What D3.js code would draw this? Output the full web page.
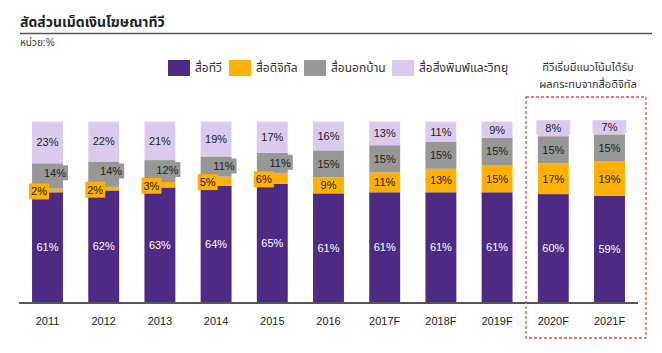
<!DOCTYPE html>
<html><head><meta charset="utf-8">
<script src="https://cdn.jsdelivr.net/npm/d3@7"></script>
<style>
body{margin:0;background:#fff;}
svg{display:block;font-family:"Liberation Sans",Arial,"Noto Sans Thai",Tahoma,sans-serif;}
</style></head>
<body>
<svg id="c" width="662" height="353"></svg>
<script>
const categories = ["2011","2012","2013","2014","2015","2016","2017F","2018F","2019F","2020F","2021F"];
const tv      = [61,62,63,64,65,61,61,61,61,60,59];
const digital = [2,2,3,5,6,9,11,13,15,17,19];
const outdoor = [14,14,12,11,11,15,15,15,15,15,15];
const print   = [23,22,21,19,17,16,13,11,9,8,7];
const seriesNames = ["สื่อทีวี","สื่อดิจิทัล","สื่อนอกบ้าน","สื่อสิ่งพิมพ์และวิทยุ"];
const seriesKeys = ["tv","digital","outdoor","print"];
const colors = ["#4d2a83","#ffb000","#979797","#dacbee"];
const title = "สัดส่วนเม็ดเงินโฆษณาทีวี";
const unit = "หน่วย:%";
const note = ["ทีวีเริ่มมีแนวโน้มได้รับ","ผลกระทบจากสื่อดิจิทัล"];
const highlighted = ["2020F","2021F"];

const data = categories.map((c,i)=>({cat:c, tv:tv[i], digital:digital[i], outdoor:outdoor[i], print:print[i]}));
const svg = d3.select("#c");

const x = d3.scaleBand().domain(categories).range([19.4,637.6]).paddingInner(0.45).paddingOuter(0.225);
const y = d3.scaleLinear().domain([0,1]).range([302.7,121.7]);
const color = d3.scaleOrdinal().domain(seriesKeys).range(colors);

const stack = d3.stack().keys(seriesKeys).offset(d3.stackOffsetExpand);
const layers = stack(data);

// title
svg.append("text").attr("x",20).attr("y",27).attr("font-size",14).attr("font-weight","bold").attr("fill","#222").text(title);
svg.append("line").attr("x1",20).attr("x2",652).attr("y1",33.5).attr("y2",33.5).attr("stroke","#555").attr("stroke-width",1.5);
svg.append("text").attr("x",20).attr("y",46).attr("font-size",10).attr("fill","#333").text(unit);

// legend
const legX = [168,229,304,392];
seriesKeys.forEach((k,i)=>{
  svg.append("rect").attr("x",legX[i]).attr("y",60).attr("width",22).attr("height",16).attr("fill",colors[i]);
  svg.append("text").attr("x",legX[i]+27).attr("y",72).attr("font-size",12).attr("fill","#333").text(seriesNames[i]);
});

// note
note.forEach((t,i)=>{
  svg.append("text").attr("x",588).attr("y",71+i*17).attr("text-anchor","middle").attr("font-size",11).attr("fill","#333").text(t);
});

// bars
const g = svg.append("g");
layers.forEach(layer=>{
  g.selectAll(null).data(layer).enter().append("rect")
    .attr("x",d=>x(d.data.cat))
    .attr("y",d=>y(d[1]))
    .attr("width",x.bandwidth())
    .attr("height",d=>y(d[0])-y(d[1]))
    .attr("fill",color(layer.key));
});

// axis
svg.append("line").attr("x1",19).attr("x2",638).attr("y1",303).attr("y2",303).attr("stroke","#555").attr("stroke-width",2);
const xAxis = svg.append("g").attr("transform","translate(0,303)").call(d3.axisBottom(x).tickSize(0).tickPadding(14));
xAxis.select(".domain").remove();
xAxis.selectAll("text").attr("font-size",11).attr("fill","#222").attr("font-family","'Liberation Sans',Arial,sans-serif");

// labels
const lab = svg.append("g").attr("font-size",11).attr("font-family","'Liberation Sans',Arial,sans-serif");
layers.forEach(layer=>{
  const k = layer.key;
  layer.forEach(d=>{
    const v = d.data[k];
    const x0 = x(d.data.cat), bw = x.bandwidth();
    const top = y(d[1]), bot = y(d[0]), mid = (top+bot)/2;
    const small = d.data.digital < 8;
    if (k==="digital" && small) {
      lab.append("rect").attr("x",x0-3).attr("y",mid-8+1).attr("width",20).attr("height",16).attr("fill",colors[1]);
      lab.append("text").attr("x",x0-1).attr("y",mid+1).attr("dy","0.35em").attr("fill","#222").text(v+"%");
    } else if (k==="outdoor" && small) {
      lab.append("rect").attr("x",x0+bw*0.38).attr("y",top+2).attr("width",bw*0.62+5).attr("height",15).attr("fill",colors[2]);
      lab.append("text").attr("x",x0+bw+3).attr("y",top+10).attr("dy","0.35em").attr("text-anchor","end").attr("fill","#222").text(v+"%");
    } else if (k==="print" && highlighted.includes(d.data.cat)) {
      lab.append("rect").attr("x",x0-1.5).attr("y",top-1.5).attr("width",bw+3).attr("height",bot-top).attr("fill",colors[3]);
      lab.append("text").attr("x",x0+bw/2).attr("y",mid-1).attr("dy","0.35em").attr("text-anchor","middle").attr("fill","#222").text(v+"%");
    } else {
      lab.append("text").attr("x",x0+bw/2).attr("y",mid).attr("dy","0.35em").attr("text-anchor","middle")
        .attr("fill",k==="tv"?"#fff":"#222").text(v+"%");
    }
  });
});

// highlight box
svg.append("rect").attr("x",526).attr("y",97).attr("width",120).attr("height",241)
  .attr("fill","none").attr("stroke","#e05050").attr("stroke-width",1.3).attr("stroke-dasharray","3,2");
</script>
</body></html>
